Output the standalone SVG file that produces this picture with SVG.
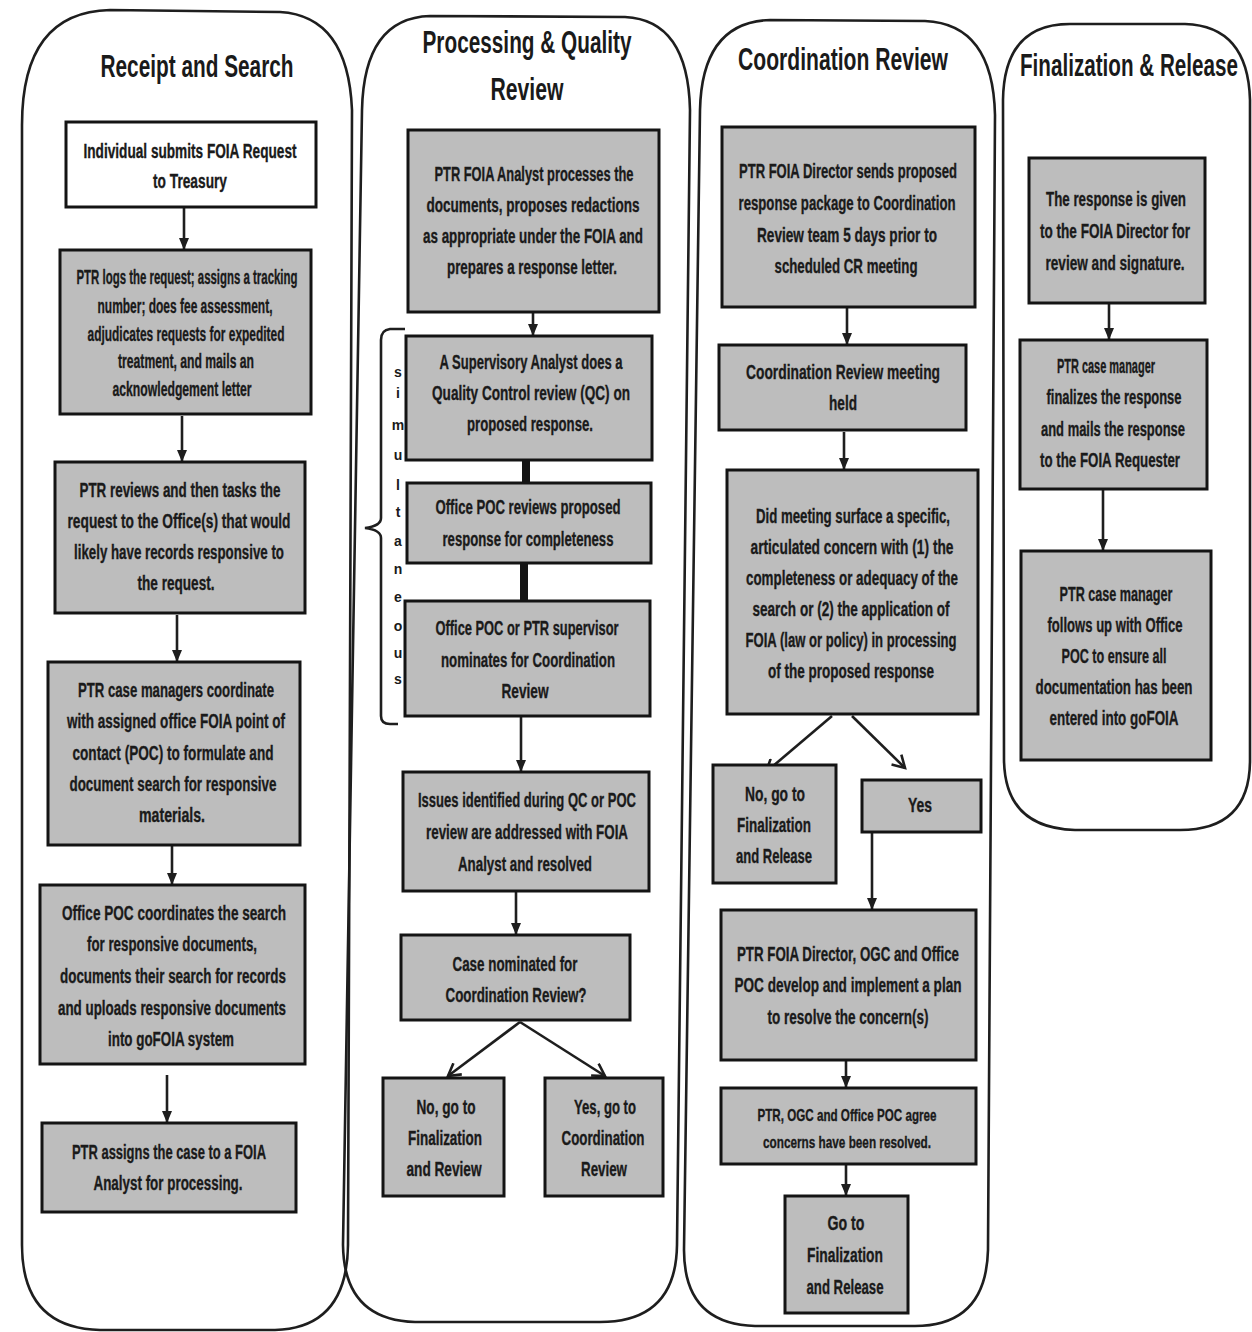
<svg xmlns="http://www.w3.org/2000/svg" width="1252" height="1332" viewBox="0 0 1252 1332">
<style>
.lane{fill:none;stroke:#1e1e1e;stroke-width:2.6}
.box{fill:#bdbdbd;stroke:#141414;stroke-width:3}
.wbox{fill:#ffffff;stroke:#141414;stroke-width:3}
.t{font-family:"Liberation Sans",Arial,sans-serif;font-weight:bold;font-size:20px;fill:#1a1a1a;stroke:#1a1a1a;stroke-width:0.35;text-anchor:middle}
.s{font-size:17px}
.title{font-family:"Liberation Sans",Arial,sans-serif;font-weight:bold;font-size:31px;fill:#1a1a1a;text-anchor:middle}
.ltr{font-family:"Liberation Sans",Arial,sans-serif;font-weight:bold;font-size:14px;fill:#1a1a1a;text-anchor:middle}
.c{fill:none;stroke:#1e1e1e;stroke-width:2.6}
.thick{fill:none;stroke:#141414;stroke-width:8}
</style>
<defs>
<marker id="ah" markerUnits="userSpaceOnUse" markerWidth="12" markerHeight="10" refX="11" refY="5" orient="auto"><path d="M0,0 L12,5 L0,10 z" fill="#1e1e1e"/></marker>
<marker id="oh" markerUnits="userSpaceOnUse" markerWidth="16" markerHeight="16" refX="13" refY="8" orient="auto"><path d="M1,1 L13,8 L1,15" fill="none" stroke="#1e1e1e" stroke-width="2.6"/></marker>
</defs>
<rect width="1252" height="1332" fill="#ffffff"/>

<g id="lanes">
<path class="lane" d="M22,125 Q22,12 110,10 L280,12 Q348,16 352,110 L348,1245 Q347,1328 275,1330 L100,1330 Q22,1328 22,1245 Z"/>
<path class="lane" d="M362,110 Q364,18 430,16 L625,17 Q688,20 690,110 L677,1245 Q676,1322 600,1322 L415,1322 Q344,1320 343,1245 Z"/>
<path class="lane" d="M700,110 Q702,22 770,20 L925,21 Q993,24 995,115 L988,1250 Q986,1326 915,1326 L755,1326 Q684,1324 684,1250 Z"/>
<path class="lane" d="M1003,100 Q1004,24 1070,24 L1185,24 Q1248,26 1250,100 L1250,760 Q1250,830 1180,830 L1075,830 Q1005,828 1004,760 Z"/>
</g>

<g id="titles">
<text class="title" x="197" y="77" textLength="193" lengthAdjust="spacingAndGlyphs">Receipt and Search</text>
<text class="title" x="527" y="53" textLength="209" lengthAdjust="spacingAndGlyphs">Processing &amp; Quality</text>
<text class="title" x="527" y="100" textLength="73" lengthAdjust="spacingAndGlyphs">Review</text>
<text class="title" x="843" y="70" textLength="210" lengthAdjust="spacingAndGlyphs">Coordination Review</text>
<text class="title" x="1129" y="76" textLength="218" lengthAdjust="spacingAndGlyphs">Finalization &amp; Release</text>
</g>

<g id="connectors">
<line class="c" x1="184" y1="208" x2="184" y2="249" marker-end="url(#ah)"/>
<line class="c" x1="182" y1="416" x2="182" y2="461" marker-end="url(#ah)"/>
<line class="c" x1="177" y1="615" x2="177" y2="661" marker-end="url(#ah)"/>
<line class="c" x1="172" y1="846" x2="172" y2="884" marker-end="url(#ah)"/>
<line class="c" x1="167" y1="1075" x2="167" y2="1122" marker-end="url(#ah)"/>
<line class="c" x1="533" y1="313" x2="533" y2="335" marker-end="url(#ah)"/>
<line class="thick" x1="526" y1="461" x2="526" y2="483"/>
<line class="thick" x1="524" y1="563" x2="524" y2="601"/>
<line class="c" x1="521" y1="717" x2="521" y2="771" marker-end="url(#ah)"/>
<line class="c" x1="516" y1="892" x2="516" y2="934" marker-end="url(#ah)"/>
<line class="c" x1="520" y1="1022" x2="448" y2="1076" marker-end="url(#oh)"/>
<line class="c" x1="520" y1="1022" x2="605" y2="1076" marker-end="url(#oh)"/>
<line class="c" x1="847" y1="308" x2="847" y2="344" marker-end="url(#ah)"/>
<line class="c" x1="844" y1="432" x2="844" y2="469" marker-end="url(#ah)"/>
<line class="c" x1="832" y1="716" x2="766" y2="772" marker-end="url(#oh)"/>
<line class="c" x1="852" y1="716" x2="905" y2="768" marker-end="url(#oh)"/>
<line class="c" x1="872" y1="833" x2="872" y2="909" marker-end="url(#ah)"/>
<line class="c" x1="846" y1="1061" x2="846" y2="1087" marker-end="url(#ah)"/>
<line class="c" x1="846" y1="1165" x2="846" y2="1195" marker-end="url(#ah)"/>
<line class="c" x1="1109" y1="304" x2="1109" y2="339" marker-end="url(#ah)"/>
<line class="c" x1="1103" y1="490" x2="1103" y2="550" marker-end="url(#ah)"/>
</g>

<g id="simultaneous">
<path class="c" d="M405,329 L390,329 Q381,330 381,340 L381,518 Q381,526 365,528 Q381,530 381,538 L381,716 Q381,724 390,724 L398,724"/>
<text class="ltr" x="398" y="377">s</text>
<text class="ltr" x="398" y="398">i</text>
<text class="ltr" x="398" y="430">m</text>
<text class="ltr" x="398" y="460">u</text>
<text class="ltr" x="398" y="490">l</text>
<text class="ltr" x="398" y="517">t</text>
<text class="ltr" x="398" y="546">a</text>
<text class="ltr" x="398" y="574">n</text>
<text class="ltr" x="398" y="602">e</text>
<text class="ltr" x="398" y="631">o</text>
<text class="ltr" x="398" y="658">u</text>
<text class="ltr" x="398" y="684">s</text>
</g>

<g id="n1">
<rect class="wbox" x="66" y="122" width="250" height="85"/>
<text class="t" x="190" y="158" textLength="213" lengthAdjust="spacingAndGlyphs">Individual submits FOIA Request</text>
<text class="t" x="190" y="188" textLength="74" lengthAdjust="spacingAndGlyphs">to Treasury</text>
</g>
<g id="n2">
<rect class="box" x="60" y="250" width="251" height="164"/>
<text class="t" x="187" y="284" textLength="221" lengthAdjust="spacingAndGlyphs">PTR logs the request; assigns a tracking</text>
<text class="t" x="185" y="313" textLength="175" lengthAdjust="spacingAndGlyphs">number; does fee assessment,</text>
<text class="t" x="186" y="341" textLength="197" lengthAdjust="spacingAndGlyphs">adjudicates requests for expedited</text>
<text class="t" x="186" y="368" textLength="136" lengthAdjust="spacingAndGlyphs">treatment, and mails an</text>
<text class="t" x="182" y="396" textLength="139" lengthAdjust="spacingAndGlyphs">acknowledgement letter</text>
</g>
<g id="n3">
<rect class="box" x="55" y="462" width="250" height="151"/>
<text class="t" x="180" y="497" textLength="201" lengthAdjust="spacingAndGlyphs">PTR reviews  and then tasks the</text>
<text class="t" x="179" y="528" textLength="223" lengthAdjust="spacingAndGlyphs">request to the Office(s) that would</text>
<text class="t" x="179" y="559" textLength="210" lengthAdjust="spacingAndGlyphs">likely have records responsive to</text>
<text class="t" x="176" y="590" textLength="77" lengthAdjust="spacingAndGlyphs">the request.</text>
</g>
<g id="n4">
<rect class="box" x="48" y="662" width="252" height="183"/>
<text class="t" x="176" y="697" textLength="196" lengthAdjust="spacingAndGlyphs">PTR case managers coordinate</text>
<text class="t" x="176" y="728" textLength="218" lengthAdjust="spacingAndGlyphs">with assigned office FOIA point of</text>
<text class="t" x="173" y="760" textLength="201" lengthAdjust="spacingAndGlyphs">contact (POC) to formulate and</text>
<text class="t" x="173" y="791" textLength="207" lengthAdjust="spacingAndGlyphs">document search for responsive</text>
<text class="t" x="172" y="822" textLength="66" lengthAdjust="spacingAndGlyphs">materials.</text>
</g>
<g id="n5">
<rect class="box" x="40" y="885" width="265" height="179"/>
<text class="t" x="174" y="920" textLength="224" lengthAdjust="spacingAndGlyphs">Office POC coordinates the  search</text>
<text class="t" x="172" y="951" textLength="170" lengthAdjust="spacingAndGlyphs">for responsive documents,</text>
<text class="t" x="173" y="983" textLength="226" lengthAdjust="spacingAndGlyphs">documents their search for records</text>
<text class="t" x="172" y="1015" textLength="228" lengthAdjust="spacingAndGlyphs">and uploads responsive documents</text>
<text class="t" x="171" y="1046" textLength="126" lengthAdjust="spacingAndGlyphs">into goFOIA system</text>
</g>
<g id="n6">
<rect class="box" x="42" y="1123" width="254" height="89"/>
<text class="t" x="169" y="1159" textLength="194" lengthAdjust="spacingAndGlyphs">PTR assigns the case to a FOIA</text>
<text class="t" x="168" y="1190" textLength="149" lengthAdjust="spacingAndGlyphs">Analyst for  processing.</text>
</g>

<g id="n7">
<rect class="box" x="408" y="130" width="251" height="182"/>
<text class="t" x="534" y="181" textLength="199" lengthAdjust="spacingAndGlyphs">PTR FOIA Analyst processes the</text>
<text class="t" x="533" y="212" textLength="213" lengthAdjust="spacingAndGlyphs">documents, proposes  redactions</text>
<text class="t" x="533" y="243" textLength="220" lengthAdjust="spacingAndGlyphs">as appropriate under the FOIA and</text>
<text class="t" x="532" y="274" textLength="170" lengthAdjust="spacingAndGlyphs">prepares a response letter.</text>
</g>
<g id="n8">
<rect class="box" x="406" y="336" width="246" height="124"/>
<text class="t" x="531" y="369" textLength="183" lengthAdjust="spacingAndGlyphs">A Supervisory Analyst does a</text>
<text class="t" x="531" y="400" textLength="198" lengthAdjust="spacingAndGlyphs">Quality Control review  (QC) on</text>
<text class="t" x="530" y="431" textLength="126" lengthAdjust="spacingAndGlyphs">proposed response.</text>
</g>
<g id="n9">
<rect class="box" x="407" y="483" width="244" height="80"/>
<text class="t" x="528" y="514" textLength="185" lengthAdjust="spacingAndGlyphs">Office POC reviews proposed</text>
<text class="t" x="528" y="546" textLength="171" lengthAdjust="spacingAndGlyphs">response for completeness</text>
</g>
<g id="n10">
<rect class="box" x="405" y="601" width="245" height="115"/>
<text class="t" x="527" y="635" textLength="183" lengthAdjust="spacingAndGlyphs">Office POC or PTR supervisor</text>
<text class="t" x="528" y="667" textLength="174" lengthAdjust="spacingAndGlyphs">nominates for Coordination</text>
<text class="t" x="525" y="698" textLength="47" lengthAdjust="spacingAndGlyphs">Review</text>
</g>
<g id="n11">
<rect class="box" x="403" y="772" width="246" height="119"/>
<text class="t" x="527" y="807" textLength="218" lengthAdjust="spacingAndGlyphs">Issues identified during QC or POC</text>
<text class="t" x="527" y="839" textLength="202" lengthAdjust="spacingAndGlyphs">review are addressed with FOIA</text>
<text class="t" x="525" y="871" textLength="134" lengthAdjust="spacingAndGlyphs">Analyst and resolved</text>
</g>
<g id="n12">
<rect class="box" x="401" y="935" width="229" height="85"/>
<text class="t" x="515" y="971" textLength="125" lengthAdjust="spacingAndGlyphs">Case nominated for</text>
<text class="t" x="516" y="1002" textLength="141" lengthAdjust="spacingAndGlyphs">Coordination Review?</text>
</g>
<g id="n13">
<rect class="box" x="383" y="1078" width="121" height="118"/>
<text class="t" x="446" y="1114" textLength="59" lengthAdjust="spacingAndGlyphs">No, go to</text>
<text class="t" x="445" y="1145" textLength="74" lengthAdjust="spacingAndGlyphs">Finalization</text>
<text class="t" x="444" y="1176" textLength="75" lengthAdjust="spacingAndGlyphs">and Review</text>
</g>
<g id="n14">
<rect class="box" x="545" y="1078" width="118" height="118"/>
<text class="t" x="605" y="1114" textLength="62" lengthAdjust="spacingAndGlyphs">Yes, go to</text>
<text class="t" x="603" y="1145" textLength="83" lengthAdjust="spacingAndGlyphs">Coordination</text>
<text class="t" x="604" y="1176" textLength="46" lengthAdjust="spacingAndGlyphs">Review</text>
</g>

<g id="n15">
<rect class="box" x="722" y="127" width="253" height="180"/>
<text class="t" x="848" y="178" textLength="218" lengthAdjust="spacingAndGlyphs">PTR FOIA Director sends proposed</text>
<text class="t" x="847" y="210" textLength="217" lengthAdjust="spacingAndGlyphs">response package to Coordination</text>
<text class="t" x="847" y="242" textLength="180" lengthAdjust="spacingAndGlyphs">Review team 5 days prior to</text>
<text class="t" x="846" y="273" textLength="143" lengthAdjust="spacingAndGlyphs">scheduled CR meeting</text>
</g>
<g id="n16">
<rect class="box" x="719" y="345" width="247" height="85"/>
<text class="t" x="843" y="379" textLength="194" lengthAdjust="spacingAndGlyphs">Coordination Review  meeting</text>
<text class="t" x="843" y="410" textLength="28" lengthAdjust="spacingAndGlyphs">held</text>
</g>
<g id="n17">
<rect class="box" x="727" y="470" width="251" height="244"/>
<text class="t" x="853" y="523" textLength="194" lengthAdjust="spacingAndGlyphs">Did meeting surface a specific,</text>
<text class="t" x="852" y="554" textLength="203" lengthAdjust="spacingAndGlyphs">articulated concern with (1) the</text>
<text class="t" x="852" y="585" textLength="212" lengthAdjust="spacingAndGlyphs">completeness or adequacy of the</text>
<text class="t" x="851" y="616" textLength="197" lengthAdjust="spacingAndGlyphs">search or (2) the application of</text>
<text class="t" x="851" y="647" textLength="211" lengthAdjust="spacingAndGlyphs">FOIA (law or policy) in processing</text>
<text class="t" x="851" y="678" textLength="166" lengthAdjust="spacingAndGlyphs">of the proposed response</text>
</g>
<g id="n18">
<rect class="box" x="713" y="765" width="123" height="118"/>
<text class="t" x="775" y="801" textLength="60" lengthAdjust="spacingAndGlyphs">No, go to</text>
<text class="t" x="774" y="832" textLength="74" lengthAdjust="spacingAndGlyphs">Finalization</text>
<text class="t" x="774" y="863" textLength="76" lengthAdjust="spacingAndGlyphs">and Release</text>
</g>
<g id="n19">
<rect class="box" x="862" y="780" width="119" height="52"/>
<text class="t" x="920" y="812" textLength="24" lengthAdjust="spacingAndGlyphs">Yes</text>
</g>
<g id="n20">
<rect class="box" x="721" y="910" width="255" height="150"/>
<text class="t" x="848" y="961" textLength="222" lengthAdjust="spacingAndGlyphs">PTR FOIA Director, OGC and Office</text>
<text class="t" x="848" y="992" textLength="227" lengthAdjust="spacingAndGlyphs">POC develop and implement a plan</text>
<text class="t" x="848" y="1024" textLength="161" lengthAdjust="spacingAndGlyphs">to resolve the concern(s)</text>
</g>
<g id="n21">
<rect class="box" x="721" y="1088" width="255" height="76"/>
<text class="t s" x="847" y="1121" textLength="179" lengthAdjust="spacingAndGlyphs">PTR, OGC and Office POC agree</text>
<text class="t s" x="847" y="1148" textLength="168" lengthAdjust="spacingAndGlyphs">concerns have been resolved.</text>
</g>
<g id="n22">
<rect class="box" x="785" y="1196" width="123" height="117"/>
<text class="t" x="846" y="1230" textLength="37" lengthAdjust="spacingAndGlyphs">Go to</text>
<text class="t" x="845" y="1262" textLength="76" lengthAdjust="spacingAndGlyphs">Finalization</text>
<text class="t" x="845" y="1294" textLength="77" lengthAdjust="spacingAndGlyphs">and Release</text>
</g>

<g id="n23">
<rect class="box" x="1029" y="158" width="176" height="145"/>
<text class="t" x="1116" y="206" textLength="140" lengthAdjust="spacingAndGlyphs">The response  is given</text>
<text class="t" x="1115" y="238" textLength="150" lengthAdjust="spacingAndGlyphs">to the FOIA Director for</text>
<text class="t" x="1115" y="270" textLength="139" lengthAdjust="spacingAndGlyphs">review  and signature.</text>
</g>
<g id="n24">
<rect class="box" x="1020" y="340" width="187" height="149"/>
<text class="t" x="1106" y="373" textLength="98" lengthAdjust="spacingAndGlyphs">PTR case manager</text>
<text class="t" x="1114" y="404" textLength="135" lengthAdjust="spacingAndGlyphs">finalizes the response</text>
<text class="t" x="1113" y="436" textLength="144" lengthAdjust="spacingAndGlyphs">and mails the response</text>
<text class="t" x="1110" y="467" textLength="140" lengthAdjust="spacingAndGlyphs">to the FOIA Requester</text>
</g>
<g id="n25">
<rect class="box" x="1021" y="551" width="190" height="209"/>
<text class="t" x="1116" y="601" textLength="113" lengthAdjust="spacingAndGlyphs">PTR case manager</text>
<text class="t" x="1115" y="632" textLength="135" lengthAdjust="spacingAndGlyphs">follows up with Office</text>
<text class="t" x="1114" y="663" textLength="105" lengthAdjust="spacingAndGlyphs">POC to ensure all</text>
<text class="t" x="1114" y="694" textLength="157" lengthAdjust="spacingAndGlyphs">documentation has been</text>
<text class="t" x="1114" y="725" textLength="129" lengthAdjust="spacingAndGlyphs">entered into goFOIA</text>
</g>
</svg>
